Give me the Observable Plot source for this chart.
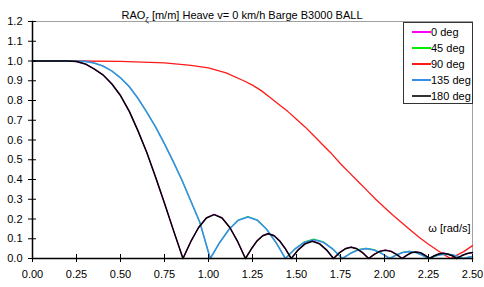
<!DOCTYPE html>
<html>
<head>
<meta charset="utf-8">
<script src="https://cdn.jsdelivr.net/npm/d3@7"></script>
<script src="https://cdn.jsdelivr.net/npm/@observablehq/plot@0.6"></script>
<style>
  body { margin: 0; background: #fff; font-family: "Liberation Sans", Arial, sans-serif; }
  #wrap { position: relative; width: 484px; height: 287px; overflow: hidden; }
  #title { position: absolute; left: 0; top: 9px; width: 484px; text-align: center; font-size: 11px; line-height: 13px; color: #000; }
  #title sub { font-size: 8px; vertical-align: -3px; line-height: 0; }
  #legend { position: absolute; left: 403px; top: 22px; width: 68px; height: 79px; border: 1px solid #333; background: #fff; box-sizing: content-box; padding-top: 1px; }
  .row { height: 16px; line-height: 16px; font-size: 11px; position: relative; }
  .row .sw { position: absolute; left: 8px; top: 7px; width: 19px; height: 2px; }
  .row .lb { position: absolute; left: 27px; top: 0; }
</style>
</head>
<body>
<div id="wrap">
  <div id="chart"></div>
  <div id="title">RAO<sub>ζ</sub> [m/m] Heave v= 0 km/h Barge B3000 BALL</div>
  <div id="legend"></div>
</div>
<script>
// ---- data ----
const seriesNames = ["0 deg", "45 deg", "90 deg", "135 deg", "180 deg"];
const seriesColors = ["#ff00ff", "#00ee00", "#ff1a1a", "#3a8ee6", "#000000"];
const xTicks = [0, 0.25, 0.5, 0.75, 1.0, 1.25, 1.5, 1.75, 2.0, 2.25, 2.5];
const yTicks = [0, 0.1, 0.2, 0.3, 0.4, 0.5, 0.6, 0.7, 0.8, 0.9, 1.0, 1.1, 1.2];

// 0 deg and 180 deg (head / following seas)
const omega180 = [0, 0.10, 0.20, 0.25, 0.30, 0.35, 0.40, 0.45, 0.50, 0.55, 0.60, 0.65, 0.70, 0.75, 0.80, 0.855,
  0.899, 0.944, 0.988, 1.032, 1.077, 1.121, 1.166, 1.21,
  1.243, 1.275, 1.308, 1.34, 1.373, 1.405, 1.438, 1.47,
  1.51, 1.55, 1.59, 1.63, 1.67, 1.71,
  1.743, 1.777, 1.81, 1.843, 1.877, 1.91,
  1.942, 1.973, 2.005, 2.037, 2.068, 2.10,
  2.126, 2.152, 2.178, 2.205, 2.231, 2.257,
  2.283, 2.308, 2.333, 2.359, 2.385, 2.41,
  2.44, 2.47, 2.50];
const rao180 = [1, 1, 1, 0.997, 0.985, 0.96, 0.93, 0.885, 0.825, 0.745, 0.645, 0.535, 0.41, 0.28, 0.145, 0,
  0.085, 0.157, 0.205, 0.222, 0.205, 0.157, 0.085, 0,
  0.048, 0.088, 0.115, 0.125, 0.115, 0.088, 0.048, 0,
  0.044, 0.075, 0.087, 0.075, 0.044, 0,
  0.028, 0.049, 0.057, 0.049, 0.028, 0,
  0.021, 0.036, 0.042, 0.036, 0.021, 0,
  0.016, 0.029, 0.033, 0.029, 0.016, 0,
  0.014, 0.023, 0.027, 0.023, 0.014, 0,
  0.015, 0.025, 0.03];
const rao0 = [1, 1, 1, 0.997, 0.985, 0.96, 0.93, 0.885, 0.825, 0.745, 0.645, 0.535, 0.41, 0.28, 0.145, 0,
  0.085, 0.158, 0.206, 0.224, 0.206, 0.158, 0.085, 0,
  0.048, 0.089, 0.116, 0.127, 0.116, 0.089, 0.048, 0,
  0.045, 0.076, 0.089, 0.076, 0.045, 0,
  0.029, 0.05, 0.058, 0.05, 0.029, 0,
  0.021, 0.037, 0.043, 0.037, 0.021, 0,
  0.016, 0.029, 0.034, 0.029, 0.016, 0,
  0.014, 0.023, 0.027, 0.023, 0.014, 0,
  0.015, 0.025, 0.03];

// 45 deg and 135 deg
const omega135 = [0, 0.10, 0.20, 0.30, 0.35, 0.40, 0.45, 0.50, 0.55, 0.60, 0.65, 0.70, 0.75, 0.80, 0.85, 0.90, 0.95, 1.01,
  1.063, 1.117, 1.17, 1.224, 1.277, 1.33, 1.384, 1.437,
  1.491, 1.545, 1.598, 1.652, 1.706, 1.76,
  1.805, 1.85, 1.895, 1.94, 1.985, 2.03,
  2.067, 2.103, 2.14, 2.177, 2.213, 2.25,
  2.283, 2.317, 2.35, 2.383, 2.417, 2.45,
  2.475, 2.50];
const rao135 = [1, 1, 1, 0.998, 0.99, 0.975, 0.95, 0.915, 0.87, 0.81, 0.74, 0.665, 0.58, 0.49, 0.395, 0.29, 0.185, 0,
  0.08, 0.148, 0.194, 0.21, 0.194, 0.148, 0.08, 0,
  0.048, 0.082, 0.095, 0.082, 0.048, 0,
  0.025, 0.043, 0.05, 0.043, 0.025, 0,
  0.018, 0.03, 0.035, 0.03, 0.018, 0,
  0.011, 0.019, 0.022, 0.019, 0.011, 0,
  0.006, 0.01];
const rao45 = [1, 1, 1, 0.998, 0.99, 0.975, 0.95, 0.915, 0.87, 0.81, 0.74, 0.665, 0.58, 0.49, 0.395, 0.29, 0.185, 0,
  0.081, 0.149, 0.195, 0.212, 0.195, 0.149, 0.081, 0,
  0.049, 0.085, 0.099, 0.085, 0.049, 0,
  0.026, 0.045, 0.052, 0.045, 0.026, 0,
  0.018, 0.031, 0.036, 0.031, 0.018, 0,
  0.011, 0.019, 0.022, 0.019, 0.011, 0,
  0.006, 0.01];

// 90 deg (beam seas)
const omega90 = [0, 0.25, 0.50, 0.75, 0.90, 1.00, 1.10, 1.20, 1.25, 1.30, 1.35, 1.40, 1.45, 1.50, 1.55, 1.60, 1.65, 1.70,
  1.75, 1.80, 1.85, 1.90, 1.95, 2.00, 2.05, 2.10, 2.15, 2.20, 2.25, 2.30, 2.35, 2.375, 2.40, 2.45, 2.50];
const rao90 = [1, 1, 0.998, 0.99, 0.978, 0.965, 0.94, 0.90, 0.878, 0.85, 0.815, 0.78, 0.745, 0.705, 0.665, 0.62, 0.575, 0.53,
  0.48, 0.435, 0.39, 0.345, 0.30, 0.258, 0.218, 0.18, 0.142, 0.105, 0.072, 0.042, 0.013, 0, 0.012, 0.035, 0.065];

// ---- build ----
const rows = (name, om, v) => om.map((w, i) => ({series: name, omega: w, rao: v[i]}));
const data = [
  {d: rows(seriesNames[0], omega180, rao0), c: seriesColors[0], w: 1.2},
  {d: rows(seriesNames[1], omega135, rao45), c: seriesColors[1], w: 1.1},
  {d: rows(seriesNames[2], omega90, rao90), c: seriesColors[2], w: 1.3},
  {d: rows(seriesNames[3], omega135, rao135), c: seriesColors[3], w: 1.6},
  {d: rows(seriesNames[4], omega180, rao180), c: seriesColors[4], w: 1.5}
];

const chart = Plot.plot({
  width: 484,
  height: 287,
  marginLeft: 32,
  marginRight: 12,
  marginTop: 21,
  marginBottom: 29,
  style: {fontFamily: '"Liberation Sans", Arial, sans-serif', fontSize: "11px", background: "white", color: "#000"},
  x: {domain: [0, 2.5]},
  y: {domain: [0, 1.2]},
  marks: [
    Plot.frame({anchor: "top", stroke: "#a0a0a0"}),
    Plot.frame({anchor: "right", stroke: "#a0a0a0"}),
    ...data.map(s => Plot.line(s.d, {x: "omega", y: "rao", stroke: s.c, strokeWidth: s.w, curve: "linear"})),
    Plot.frame({anchor: "left", stroke: "#000", strokeWidth: 1.5}),
    Plot.frame({anchor: "bottom", stroke: "#000", strokeWidth: 1.5}),
    Plot.axisY(yTicks, {tickSize: 8, dx: 4, text: null, label: null, stroke: "#000"}),
    Plot.axisY(yTicks, {tickSize: 0, tickPadding: 10, label: null, tickFormat: d => d.toFixed(1), fill: "#000"}),
    Plot.axisX(xTicks, {tickSize: 8, dy: -4, text: null, label: null, stroke: "#000"}),
    Plot.axisX(xTicks, {tickSize: 0, tickPadding: 12, label: null, tickFormat: d => d.toFixed(2), fill: "#000"}),
    Plot.text(["ω [rad/s]"], {frameAnchor: "bottom-right", dx: -2, dy: -27, textAnchor: "end", fill: "#000"})
  ]
});
document.getElementById("chart").appendChild(chart);

// legend
const lg = document.getElementById("legend");
seriesNames.forEach((n, i) => {
  const r = document.createElement("div");
  r.className = "row";
  const sw = document.createElement("span");
  sw.className = "sw";
  sw.style.background = seriesColors[i] === "#000000" ? "#333333" : seriesColors[i];
  const lb = document.createElement("span");
  lb.className = "lb";
  lb.textContent = n;
  r.appendChild(sw);
  r.appendChild(lb);
  lg.appendChild(r);
});
</script>
</body>
</html>
